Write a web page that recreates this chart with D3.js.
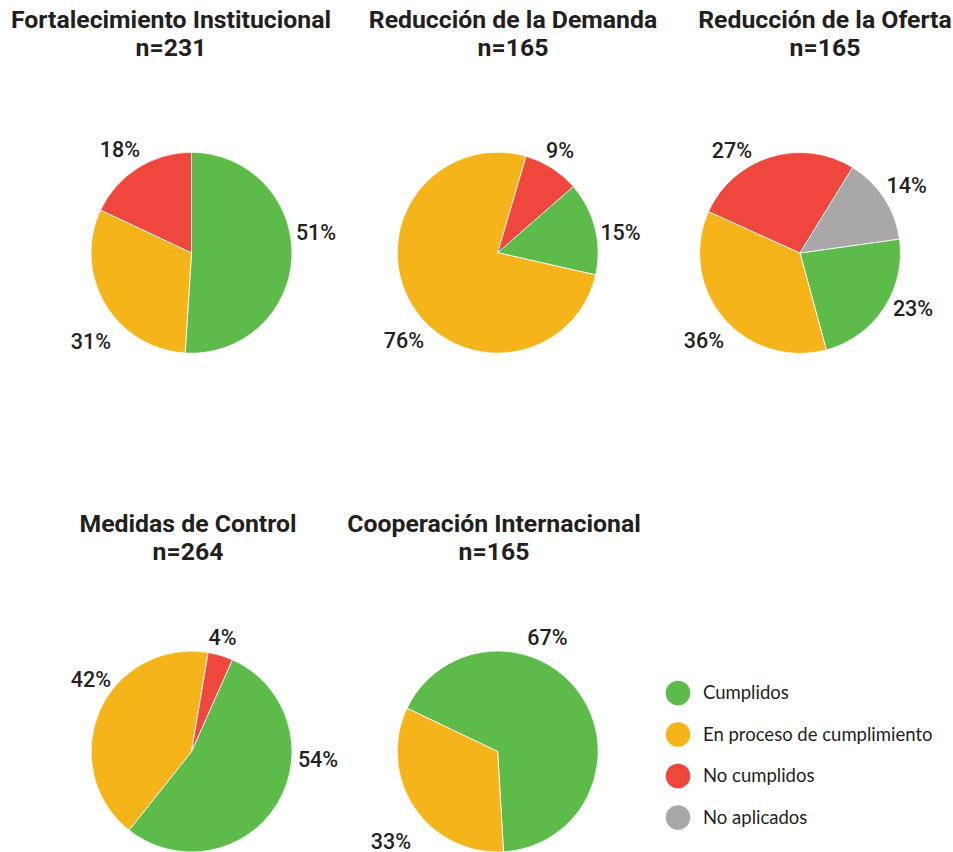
<!DOCTYPE html>
<html>
<head>
<meta charset="utf-8">
<script src="https://cdn.jsdelivr.net/npm/d3@7"></script>
<style>
  html, body { margin: 0; padding: 0; background: #ffffff; }
  svg { display: block; }
</style>
</head>
<body>
<svg id="chart" width="953" height="852"></svg>
<script>
// ---------- data ----------
const categories = ["Cumplidos", "En proceso de cumplimiento", "No cumplidos", "No aplicados"];
const chartTitles = ["Fortalecimiento Institucional", "Reducción de la Demanda", "Reducción de la Oferta", "Medidas de Control", "Cooperación Internacional"];
const sampleSizes = [231, 165, 165, 264, 165];
const fortalecimientoValues = [51, 31, 18, 0];
const demandaValues = [15, 76, 9, 0];
const ofertaValues = [23, 36, 27, 14];
const controlValues = [54, 42, 4, 0];
const cooperacionValues = [67, 33, 0, 0];
const seriesValues = [fortalecimientoValues, demandaValues, ofertaValues, controlValues, cooperacionValues];

// ---------- style / layout ----------
const colors = ["#5DBB4A", "#F5B51A", "#EF473E", "#A9A7A8"];
const textColor = "#231F20";
const radius = 100.5;
const labelRadius = 127;
const panels = [
  { cx: 191.5, cy: 252.8, titleX: 171, titleY: 28, start: 0 },
  { cx: 497.7, cy: 252.7, titleX: 513, titleY: 28, start: 48.8 },
  { cx: 800,   cy: 253,   titleX: 825, titleY: 28, start: 82 },
  { cx: 191.5, cy: 751.5, titleX: 188, titleY: 532, start: 24 },
  { cx: 497.7, cy: 751.5, titleX: 494, titleY: 532, start: 295.5 }
];
// small label nudges (px) from the slice mid-angle position, per category
const labelNudges = [
  [[-2.4, -24.3], [8.8, 24.1], [-3.5, 3.4], [0, 0]],
  [[-0.3, 11], [15.8, 23.5], [-6.1, 4.3], [0, 0]],
  [[7, -14.9], [0.7, 4.7], [-30.9, 18.9], [0.4, 2]],
  [[17.9, -58.3], [15.5, -20.9], [-5.7, 7.1], [0, 0]],
  [[-55.6, -43.7], [-1.3, 19.2], [0, 0], [0, 0]]
];
const legendLayout = { x: 678, y: 693, step: 41.5, r: 12.3, textX: 703 };

const svg = d3.select("#chart");
const color = d3.scaleOrdinal().domain(categories).range(colors);
const arc = d3.arc().innerRadius(0).outerRadius(radius);
const labelArc = d3.arc().innerRadius(labelRadius).outerRadius(labelRadius);
const toRad = d => d * Math.PI / 180;

seriesValues.forEach((vals, i) => {
  const p = panels[i];
  const data = categories.map((c, k) => ({ cat: c, k: k, value: vals[k] }));
  const pie = d3.pie().sort(null).value(d => d.value)
    .startAngle(toRad(p.start)).endAngle(toRad(p.start) + 2 * Math.PI);
  const arcs = pie(data).filter(d => d.data.value > 0);

  const g = svg.append("g");

  // titles
  const t = g.append("text")
    .attr("x", p.titleX).attr("y", p.titleY)
    .attr("text-anchor", "middle")
    .attr("font-family", "Roboto, sans-serif")
    .attr("font-weight", 700)
    .attr("font-size", 24.8)
    .attr("fill", textColor);
  t.append("tspan").attr("x", p.titleX).text(chartTitles[i]);
  t.append("tspan").attr("x", p.titleX).attr("dy", 28).text("n=" + sampleSizes[i]);

  const pg = g.append("g").attr("transform", `translate(${p.cx},${p.cy})`);
  pg.selectAll("path").data(arcs).enter().append("path")
    .attr("d", arc)
    .attr("fill", d => color(d.data.cat))
    .attr("stroke", "#ffffff")
    .attr("stroke-width", 0.8);

  pg.selectAll("text").data(arcs).enter().append("text")
    .attr("transform", d => {
      const c = labelArc.centroid(d);
      const n = labelNudges[i][d.data.k];
      return `translate(${c[0] + n[0]},${c[1] + n[1]})`;
    })
    .attr("dy", "0.36em")
    .attr("text-anchor", "middle")
    .attr("font-family", "Roboto, sans-serif")
    .attr("font-weight", 500)
    .attr("font-size", 21.5)
    .attr("fill", textColor)
    .text(d => d.data.value + "%");
});

// legend
const lg = svg.append("g");
const items = lg.selectAll("g").data(categories).enter().append("g")
  .attr("transform", (d, i) => `translate(0,${legendLayout.y + i * legendLayout.step})`);
items.append("circle")
  .attr("cx", legendLayout.x).attr("cy", 0).attr("r", legendLayout.r)
  .attr("fill", d => color(d));
items.append("text")
  .attr("x", legendLayout.textX).attr("y", 0).attr("dy", "0.35em")
  .attr("font-family", "Lato, sans-serif")
  .attr("font-size", 18.5)
  .attr("fill", textColor)
  .text(d => d);
</script>
</body>
</html>
